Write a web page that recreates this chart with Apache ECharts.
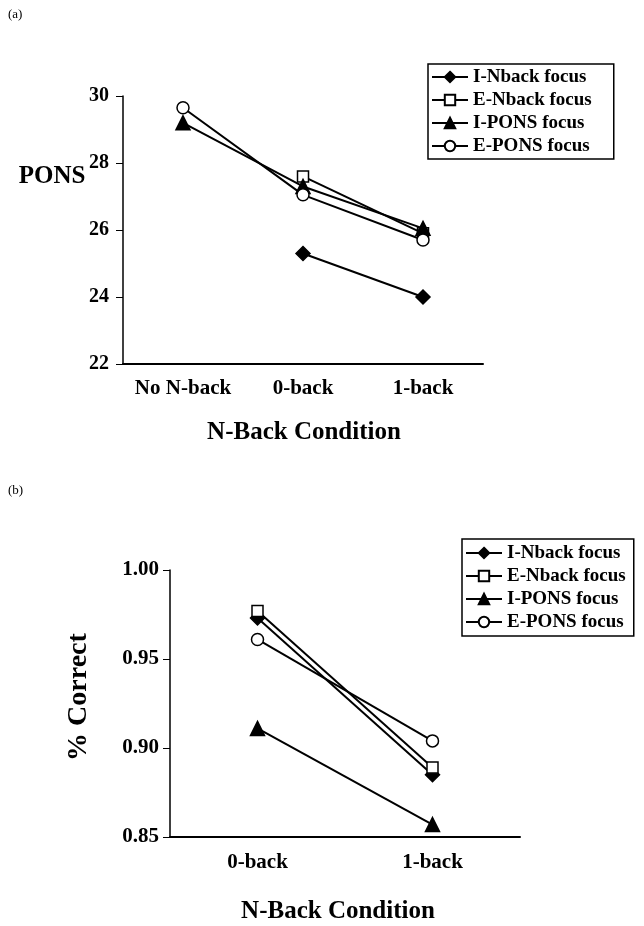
<!DOCTYPE html>
<html><head><meta charset="utf-8">
<script src="https://cdn.jsdelivr.net/npm/echarts@6/dist/echarts.min.js"></script>
<style>html,body{margin:0;padding:0;background:#fff}#c{width:644px;height:926px}</style>
</head><body><div id="c"></div>
<script>
var seriesNames = ['I-Nback focus','E-Nback focus','I-PONS focus','E-PONS focus'];
var catsA = ['No N-back','0-back','1-back'];
var iNbackA = [null, 25.3, 24.0];
var eNbackA = [null, 27.6, 25.9];
var iPonsA  = [29.2, 27.3, 26.05];
var ePonsA  = [29.65, 27.05, 25.7];
var ticksA = [22, 24, 26, 28, 30];

var catsB = ['0-back','1-back'];
var iNbackB = [0.973, 0.885];
var eNbackB = [0.977, 0.889];
var iPonsB  = [0.911, 0.857];
var ePonsB  = [0.961, 0.904];
var ticksB = [0.85, 0.90, 0.95, 1.00];

var symbols = [
  {symbol:'diamond', fill:'#000', size:14},
  {symbol:'rect', fill:'#fff', size:11},
  {symbol:'triangle', fill:'#000', size:14},
  {symbol:'circle', fill:'#fff', size:12}
];
var FONT = '"Liberation Serif","Times New Roman",serif';

function mk(name, data, idx, gi){
  var s = symbols[idx];
  return {name:name, type:'line', data:data, xAxisIndex:gi, yAxisIndex:gi,
    symbol:s.symbol, symbolSize:s.size, connectNulls:false, animation:false,
    lineStyle:{color:'#000', width:2},
    itemStyle:{color:s.fill, borderColor:'#000', borderWidth:1.5}};
}
var chart = echarts.init(document.getElementById('c'));
function lab(sz, m){ return {color:'#000', fontFamily:FONT, fontWeight:'bold', fontSize:sz, margin:m, interval:0}; }
function legend(left, top, pad){
  return {left:left, top:top, orient:'vertical', backgroundColor:'#fff', borderColor:'#000', borderWidth:1.5,
    borderRadius:0, padding:pad, itemGap:3, itemWidth:36, itemHeight:13,
    textStyle:{color:'#000', fontFamily:FONT, fontWeight:'bold', fontSize:19, lineHeight:20},
    data:seriesNames, selectedMode:false};
}
chart.setOption({
  backgroundColor:'#fff',
  animation:false,
  grid:[{left:123, top:96, width:360, height:268},{left:170, top:570, width:350, height:267}],
  legend:[legend(428, 64, [3,22,3,3]), legend(462, 539, [4,8,4,3])],
  xAxis:[
    {type:'category', gridIndex:0, data:catsA, axisLine:{lineStyle:{color:'#000', width:2}},
     axisTick:{length:6, lineStyle:{color:'#000', width:1.5}}, axisLabel:lab(21, 14)},
    {type:'category', gridIndex:1, data:catsB, axisLine:{lineStyle:{color:'#000', width:2}},
     axisTick:{length:6, lineStyle:{color:'#000', width:1.5}}, axisLabel:lab(21, 15)}
  ],
  yAxis:[
    {type:'value', gridIndex:0, min:ticksA[0], max:ticksA[ticksA.length-1], interval:2,
     axisLine:{show:true, lineStyle:{color:'#000', width:1.5}}, axisTick:{show:true, length:7, lineStyle:{color:'#000'}},
     splitLine:{show:false}, axisLabel:lab(20, 14)},
    {type:'value', gridIndex:1, min:ticksB[0], max:ticksB[ticksB.length-1], interval:0.05,
     axisLine:{show:true, lineStyle:{color:'#000', width:1.5}}, axisTick:{show:true, length:7, lineStyle:{color:'#000'}},
     splitLine:{show:false}, axisLabel:Object.assign(lab(21, 11), {formatter:function(v){return v.toFixed(2);}})}
  ],
  series:[
    mk(seriesNames[0], iNbackA, 0, 0), mk(seriesNames[1], eNbackA, 1, 0),
    mk(seriesNames[2], iPonsA, 2, 0), mk(seriesNames[3], ePonsA, 3, 0),
    mk(seriesNames[0], iNbackB, 0, 1), mk(seriesNames[1], eNbackB, 1, 1),
    mk(seriesNames[2], iPonsB, 2, 1), mk(seriesNames[3], ePonsB, 3, 1)
  ],
  graphic:[
    {type:'text', left:8, top:8, style:{text:'(a)', font:'13px '+FONT, fill:'#000'}},
    {type:'text', left:8, top:484, style:{text:'(b)', font:'13px '+FONT, fill:'#000'}},
    {type:'text', x:52, y:177, style:{text:'PONS', font:'bold 25px '+FONT, fill:'#000', align:'center', verticalAlign:'middle'}},
    {type:'text', x:304, y:433, style:{text:'N-Back Condition', font:'bold 25px '+FONT, fill:'#000', align:'center', verticalAlign:'middle'}},
    {type:'text', x:338, y:912, style:{text:'N-Back Condition', font:'bold 25px '+FONT, fill:'#000', align:'center', verticalAlign:'middle'}},
    {type:'text', x:79, y:697, rotation:Math.PI/2, style:{text:'% Correct', font:'bold 28px '+FONT, fill:'#000', align:'center', verticalAlign:'middle'}}
  ]
});
</script></body></html>
